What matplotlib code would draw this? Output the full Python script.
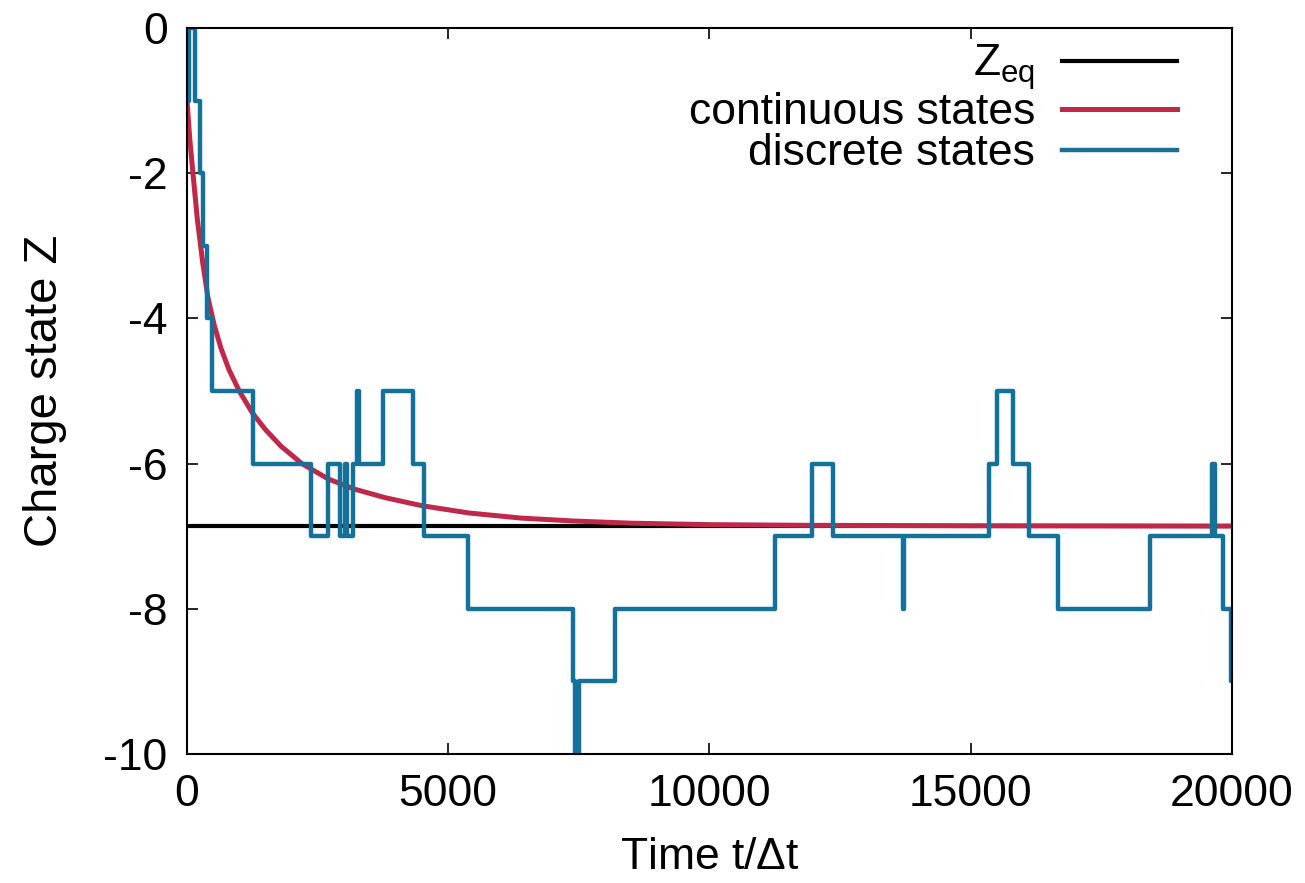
import numpy as np
import matplotlib
matplotlib.use("Agg")
import matplotlib.pyplot as plt

plt.rcParams["font.family"] = ["Liberation Sans", "DejaVu Sans"]
plt.rcParams["mathtext.fontset"] = "custom"
plt.rcParams["mathtext.rm"] = "Liberation Sans"
plt.rcParams["mathtext.it"] = "Liberation Sans"
plt.rcParams["axes.unicode_minus"] = False

# ---- Data ----
z_eq = -6.86

# continuous-state mean charge
t_cont = [0, 50, 115, 200, 300, 400, 520, 650, 800, 1000, 1250, 1500,
          1800, 2200, 2700, 3200, 3800, 4500, 5400, 6400, 7400, 8500,
          10000, 12000, 15000, 20000]
z_cont = [-1.0, -1.50, -2.01, -2.65, -3.23, -3.71, -4.09, -4.41, -4.70,
          -5.00, -5.30, -5.53, -5.76, -6.00, -6.21, -6.35, -6.47, -6.58,
          -6.68, -6.75, -6.79, -6.82, -6.84, -6.85, -6.855, -6.86]

# discrete-state trajectory: time of each jump and state after it
t_disc = [0, 30, 153, 249, 306, 383, 478, 1263, 2367, 2705, 2928, 3020,
          3070, 3171, 3260, 3300, 3757, 4320, 4536, 5384, 7390, 7420,
          7500, 8191, 11254, 11962, 12364, 13700, 13725, 15350, 15500,
          15808, 16115, 16670, 18430, 19620, 19680, 19828, 19980, 20000]
z_disc = [-1, 0, -1, -2, -3, -4, -5, -6, -7, -6, -7, -6,
          -7, -6, -5, -6, -5, -6, -7, -8, -9, -10,
          -9, -8, -7, -6, -7, -8, -7, -6, -5,
          -6, -7, -8, -7, -6, -7, -8, -9, -9]

x_ticks = [0, 5000, 10000, 15000, 20000]
y_ticks = [0, -2, -4, -6, -8, -10]

# ---- Figure ----
fig = plt.figure(figsize=(13.05, 8.83), dpi=100)
ax = fig.add_axes([0.1433, 0.146, 0.8007, 0.8223])

ax.axhline(z_eq, color="black", linewidth=3.0, label=r"Z$_{\rm eq}$")
ax.plot(t_cont, z_cont, color="#c0284a", linewidth=3.6,
        label="continuous states")
ax.step(t_disc, z_disc, where="post", color="#14729a", linewidth=3.2,
        label="discrete states")

ax.set_xlim(0, 20000)
ax.set_ylim(-10, 0)
ax.set_xticks(x_ticks)
ax.set_yticks(y_ticks)
ax.tick_params(direction="in", length=8, width=1.2, labelsize=32,
               top=True, right=True, pad=14)
ax.tick_params(axis="y", pad=14)
for s in ax.spines.values():
    s.set_linewidth(1.5)

ax.set_xlabel(r"Time t/$\Delta$t", fontsize=32, labelpad=16)
ax.set_ylabel("Charge state Z", fontsize=34, labelpad=26)

ax.legend(loc="upper right", bbox_to_anchor=(0.986, 1.035), frameon=False,
          fontsize=32, markerfirst=False, handlelength=2.6,
          handletextpad=0.6, labelspacing=0.0)

plt.savefig("out.png", dpi=100)
plt.close()
